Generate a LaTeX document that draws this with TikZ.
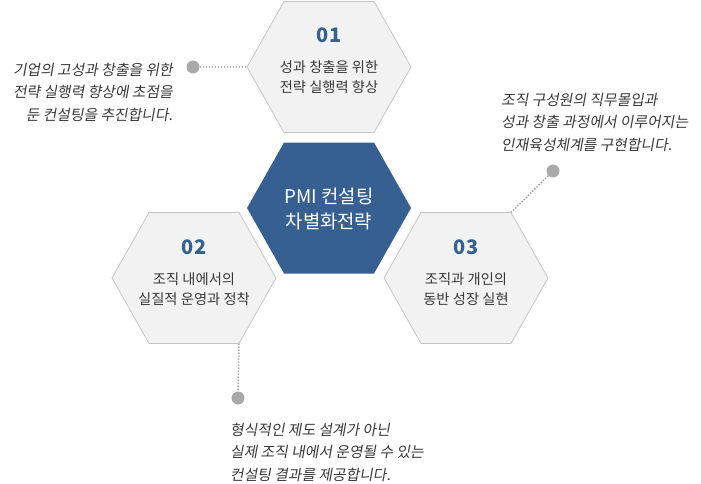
\documentclass[tikz,border=0pt]{standalone}
\usepackage{fontspec}
\setmainfont{Noto Sans CJK KR}
\newfontfamily\krslant[FakeSlant=0.18]{Noto Sans CJK KR}
\usepackage{tikz}
\usetikzlibrary{positioning}
\definecolor{hexblue}{HTML}{365F92}
\definecolor{hexgray}{HTML}{F2F2F2}
\definecolor{hexline}{HTML}{C6C6C6}
\definecolor{dotgray}{HTML}{A9A9A9}
\definecolor{txtgray}{HTML}{383838}
\tikzstyle{hexcell}=[draw=hexline, fill=hexgray, line width=0.8pt]
\tikzstyle{hexmain}=[fill=hexblue]
\tikzstyle{numtxt}=[text=hexblue, font=\fontsize{20}{20}\selectfont\bfseries]
\tikzstyle{captxt}=[text=txtgray, align=center, inner sep=0, font=\fontsize{14.3}{20}\selectfont]
\tikzstyle{notetxt}=[text=txtgray, inner sep=0, font=\krslant\fontsize{14.8}{22.5}\selectfont]
\tikzstyle{dotmark}=[circle, fill=dotgray, inner sep=0, minimum size=13pt]
\tikzstyle{leader}=[draw=dotgray, line width=1.5pt, dash pattern=on 1.5pt off 1.5pt]

\begin{document}
\begin{tikzpicture}[x=1pt, y=-1pt]
        \useasboundingbox (0,0) rectangle (701,484);

        % hexagon cells
        \foreach \name/\cx/\cy in {one/329/67, mid/329/208, two/194/278, three/466/278}{
            \coordinate (\name) at (\cx,\cy);
            \coordinate (\name-w) at (\cx-82,\cy);
            \coordinate (\name-e) at (\cx+82,\cy);
            \coordinate (\name-nw) at (\cx-45,\cy-65.5);
            \coordinate (\name-ne) at (\cx+45,\cy-65.5);
            \coordinate (\name-se) at (\cx+45,\cy+65.5);
            \coordinate (\name-sw) at (\cx-45,\cy+65.5);
        };
        \foreach \name in {one,two,three}{
            \draw [hexcell] (\name-w) -- (\name-nw) -- (\name-ne) -- (\name-e) -- (\name-se) -- (\name-sw) -- cycle;
        };
        \fill [hexmain] (mid-w) -- (mid-nw) -- (mid-ne) -- (mid-e) -- (mid-se) -- (mid-sw) -- cycle;

        \node (midText) [captxt, text=white, font=\fontsize{18.8}{25}\selectfont] at ([yshift=-1pt]mid) {PMI 컨설팅\\차별화전략};

        \node (num1) [numtxt] at ([yshift=32pt]one) {01};
        \node (cap1) [captxt] at ([yshift=-10pt]one) {성과 창출을 위한\\전략 실행력 향상};

        \node (num2) [numtxt] at ([yshift=31pt]two) {02};
        \node (cap2) [captxt] at ([yshift=-11pt]two) {조직 내에서의\\실질적 운영과 정착};

        \node (num3) [numtxt] at ([yshift=31pt]three) {03};
        \node (cap3) [captxt] at ([yshift=-11pt]three) {조직과 개인의\\동반 성장 실현};

        % side notes
        \node (note1) [notetxt, align=right, anchor=east] at (173,92) {기업의 고성과 창출을 위한\\전략 실행력 향상에 초점을\\둔 컨설팅을 추진합니다.};
        \node (note3) [notetxt, align=left, anchor=west] at (501,122) {조직 구성원의 직무몰입과\\성과 창출 과정에서 이루어지는\\인재육성체계를 구현합니다.};
        \node (note2) [notetxt, align=left, anchor=west] at (230,452) {형식적인 제도 설계가 아닌\\실제 조직 내에서 운영될 수 있는\\컨설팅 결과를 제공합니다.};

        % leaders
        \node (dot1) [dotmark] at (193,67) {};
        \node (dot3) [dotmark] at (553,171) {};
        \node (dot2) [dotmark] at (238,398) {};
        \draw [leader] (dot1) -- (one-w);
        \draw [leader] (dot3) -- (three-ne);
        \draw [leader] (two-se) -- (dot2);

\end{tikzpicture}
\end{document}
